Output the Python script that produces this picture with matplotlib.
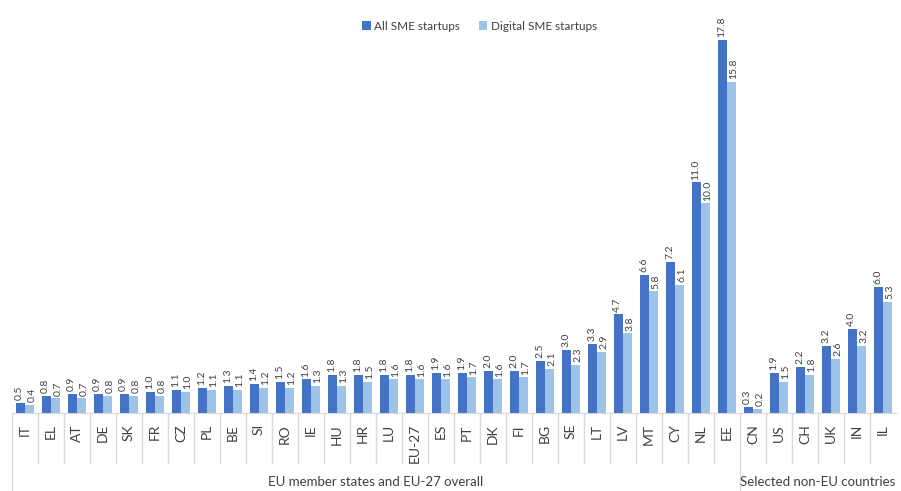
import matplotlib.pyplot as plt
import matplotlib.transforms as mtransforms
import numpy as np

plt.rcParams['font.family'] = ['Lato', 'DejaVu Sans']

countries = ['IT', 'EL', 'AT', 'DE', 'SK', 'FR', 'CZ', 'PL', 'BE', 'SI', 'RO', 'IE', 'HU', 'HR',
             'LU', 'EU-27', 'ES', 'PT', 'DK', 'FI', 'BG', 'SE', 'LT', 'LV', 'MT', 'CY', 'NL', 'EE',
             'CN', 'US', 'CH', 'UK', 'IN', 'IL']
all_sme = [0.5, 0.8, 0.9, 0.9, 0.9, 1.0, 1.1, 1.2, 1.3, 1.4, 1.5, 1.6, 1.8, 1.8,
           1.8, 1.8, 1.9, 1.9, 2.0, 2.0, 2.5, 3.0, 3.3, 4.7, 6.6, 7.2, 11.0, 17.8,
           0.3, 1.9, 2.2, 3.2, 4.0, 6.0]
digital_sme = [0.4, 0.7, 0.7, 0.8, 0.8, 0.8, 1.0, 1.1, 1.1, 1.2, 1.2, 1.3, 1.3, 1.5,
               1.6, 1.6, 1.6, 1.7, 1.6, 1.7, 2.1, 2.3, 2.9, 3.8, 5.8, 6.1, 10.0, 15.8,
               0.2, 1.5, 1.8, 2.6, 3.2, 5.3]
groups = ['EU member states and EU-27 overall', 'Selected non-EU countries']
group_sizes = [28, 6]

dark = '#4472C4'
light = '#9DC3E6'
txt = '#404040'
sep = '#D9D9D9'

fig = plt.figure(figsize=(9.01, 4.91), dpi=100)
ax = fig.add_axes([12 / 901, 1 - 413 / 491, 884 / 901, (413 - 10) / 491])

x = np.arange(len(countries))
w = 0.35
b1 = ax.bar(x - w / 2, all_sme, w, color=dark, label='All SME startups')
b2 = ax.bar(x + w / 2, digital_sme, w, color=light, label='Digital SME startups')

# nudge the two label columns apart so they don't collide
for bars, vals, dx in [(b1, all_sme, -0.6), (b2, digital_sme, 1.6)]:
    for rect, v in zip(bars, vals):
        ax.annotate(f'{v:.1f}', (rect.get_x() + rect.get_width() / 2, v),
                    xytext=(dx, 2), textcoords='offset points', rotation=90,
                    ha='center', va='bottom', fontsize=7.5, color=txt)

ax.set_xlim(-0.5, len(countries) - 0.5)
ax.set_ylim(0, (413 - 10) / 20.96)
ax.set_yticks([])
ax.set_xticks(x)
ax.set_xticklabels(countries, rotation=90, fontsize=10, color=txt)
ax.tick_params(axis='x', length=0, pad=8)
for s in ['top', 'right', 'left']:
    ax.spines[s].set_visible(False)
ax.spines['bottom'].set_color(sep)

# category separators below the axis
trans = mtransforms.blended_transform_factory(ax.transData, ax.transAxes)
h = ax.get_position().height * 4.91 * 100
for i in range(len(countries) + 1):
    edge = i - 0.5
    if i == 0 or i == 28:
        y_low = -78 / h
    elif i == len(countries):
        continue
    else:
        y_low = -50 / h
    ax.plot([edge, edge], [0, y_low], transform=trans, color=sep, lw=1, clip_on=False)

start = 0
for g, n in zip(groups, group_sizes):
    ax.text(start - 0.5 + n / 2, -69 / h, g, transform=trans, ha='center', va='center',
            fontsize=9.5, color=txt)
    start += n

ax.legend(loc='upper center', bbox_to_anchor=(0.529, 1.0), ncol=2, frameon=False,
          fontsize=8.5, handlelength=0.7, handleheight=0.7, columnspacing=1.6,
          handletextpad=0.3, labelcolor=txt)

fig.savefig('out.png', dpi=100)
